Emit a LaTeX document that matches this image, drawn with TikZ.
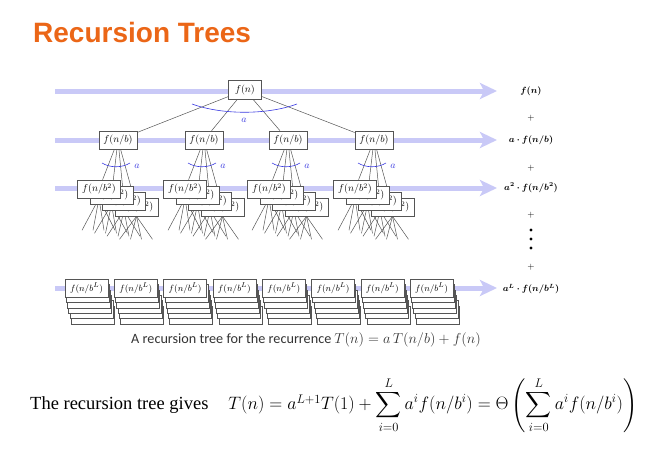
\documentclass[tikz,border=0pt]{standalone}
\usepackage{amsmath,bm}
\usepackage{fontspec}
\setmainfont{Liberation Serif}
\newfontfamily\titlefont{Liberation Sans}
\newfontfamily\capfont{Carlito}
\usetikzlibrary{arrows.meta,positioning,calc}
\definecolor{TOrange}{HTML}{EB6617}
\definecolor{LLav}{HTML}{C9C9F7}
\definecolor{ABlue}{HTML}{3A3AE0}
\definecolor{EGray}{HTML}{555555}
\pgfdeclarelayer{back}
\pgfdeclarelayer{mid}
\pgfsetlayers{back,mid,main}

\begin{document}
\begin{tikzpicture}[x=1pt,y=-1pt,
  lvl/.style={line width=5pt,draw=LLav,-{Stealth[length=17pt,width=16pt,inset=4pt]}},
  fbox/.style={draw=EGray,fill=white,line width=0.6pt,minimum width=38pt,
    minimum height=18pt,inner sep=1pt,font=\fontsize{10}{12}\selectfont},
  sbox/.style={fbox,minimum width=43pt},
  edge/.style={draw=EGray,line width=0.5pt},
  arcA/.style={draw=ABlue,line width=0.6pt},
  alab/.style={text=ABlue,font=\fontsize{10}{12}\selectfont,inner sep=1pt},
  sumlab/.style={font=\fontsize{9}{11}\selectfont,inner sep=1pt}
]
  \useasboundingbox (0,0) rectangle (672,461);
  \node[anchor=base west,inner sep=0,text=TOrange,
    font=\titlefont\bfseries\fontsize{28}{32}\selectfont] (title) at (33,42) {Recursion Trees};

  % level arrows
  \begin{pgfonlayer}{back}
  \foreach \n/\y in {0/91,1/140,2/188,L/288}{
    \coordinate (s\n) at (55,\y);
    \coordinate (e\n) at (497,\y);
    \draw[lvl] (s\n) -- (e\n);
  }
  \end{pgfonlayer}

  % root and first level
  \node[fbox,minimum width=33pt,minimum height=19pt] (root) at (245,90) {$f(n)$};
  \foreach \i/\x in {1/118,2/204,3/288,4/374}{
    \node[fbox] (b\i) at (\x,140) {$f(n/b)$};
    \draw[edge] (root) -- (b\i);
    \draw[arcA] (\x-16,163) .. controls (\x-8,168) and (\x+4,168) .. (\x+12,163);
    \node[alab] (a\i) at (\x+19,166) {$a$};
  }
  \draw[arcA] (192,104) .. controls (222,115) and (267,115) .. (297,104);
  \node[alab] (a0) at (244,120) {$a$};

  % second level, stacked
  \foreach \i/\x in {1/118,2/204,3/288,4/374}{
    \foreach \k in {3,2,1,0}{
      \node[sbox] (g\i\k) at (\x-19+12.5*\k,189+6*\k) {$f(n/b^2)$};
      \begin{pgfonlayer}{mid}
        \draw[edge] (b\i) -- (g\i\k);
        \foreach \j/\d in {1/-17,2/-6,3/5,4/16}{
          \coordinate (t\i\k\j) at ($(g\i\k.south)+(\d,32-3*\k)$);
          \draw[edge] (g\i\k.south) -- (t\i\k\j);
        }
      \end{pgfonlayer}
    }
  }

  % leaves
  \foreach \j in {0,...,7}{
    \foreach \k in {5,4,3,2,1}
      \node[sbox] (l\j-\k) at (86.5+49.3*\j+1.2*\k,288+5.4*\k) {};
    \node[sbox,font=\fontsize{9.5}{11}\selectfont] (l\j) at (86.5+49.3*\j,288) {$f(n/b^L)$};
  }

  % sums on the right
  \node[sumlab] (r0) at (531,91) {$\bm{f(n)}$};
  \node[sumlab] (p0) at (531,118) {$+$};
  \node[sumlab] (r1) at (531,140) {$\bm{a\cdot f(n/b)}$};
  \node[sumlab] (p1) at (531,168) {$+$};
  \node[sumlab] (r2) at (531,188) {$\bm{a^2\cdot f(n/b^2)}$};
  \node[sumlab] (p2) at (531,215) {$+$};
  \foreach \d in {230,239,248}
    \fill (531,\d) circle (1.6pt);
  \node[sumlab] (p3) at (531,267) {$+$};
  \node[sumlab] (rL) at (531,289) {$\bm{a^L\cdot f(n/b^L)}$};

  \node[font=\capfont\fontsize{14.2}{16}\selectfont,text=black!80] (cap) at (306,340)
    {A recursion tree for the recurrence $T(n) = a\,T(n/b) + f(n)$};

  \node[anchor=west,inner sep=0,font=\fontsize{18.5}{22}\selectfont] (eq) at (30,405)
    {The recursion tree gives\hspace{20pt}\scalebox{1.04}{$T(n) = a^{L+1}T(1) + \displaystyle\sum_{i=0}^{L} a^i f(n/b^i)
     = \Theta\left(\sum_{i=0}^{L} a^i f(n/b^i)\right)$}};
\end{tikzpicture}
\end{document}
